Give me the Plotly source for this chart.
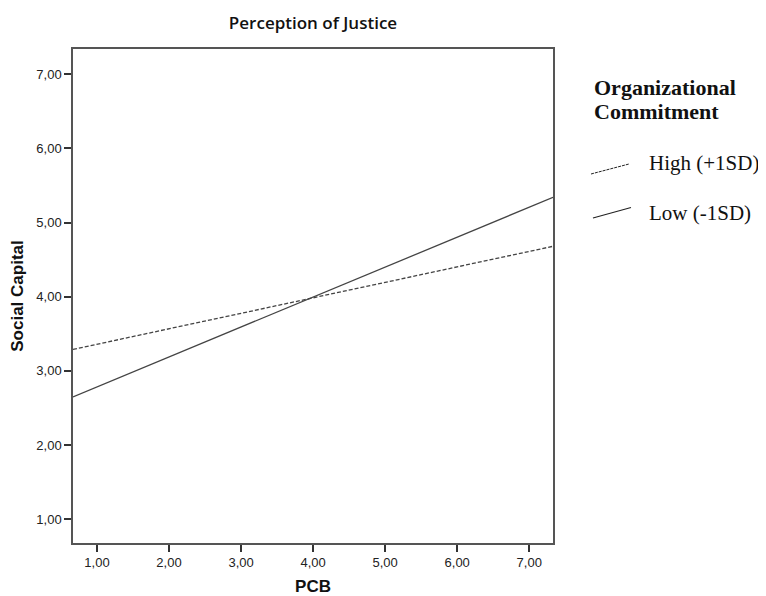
import plotly.graph_objects as go

pcb_range = [0.667, 7.33]
high_values = [3.29, 4.68]
low_values = [2.65, 5.34]
series_names = ["High (+1SD)", "Low (-1SD)"]
legend_title_lines = ["Organizational", "Commitment"]
x_ticks = [1, 2, 3, 4, 5, 6, 7]
y_ticks = [1, 2, 3, 4, 5, 6, 7]

# page has an 8px body margin; figure is shrunk by it so nothing overflows the window
OFF = 8
W, H = 766 - OFF, 596 - OFF

def px(x):
    return (x - 73) / 480

def py(y):
    return (543 - y) / 494

fig = go.Figure()
fig.add_trace(go.Scatter(x=pcb_range, y=high_values, mode="lines", name=series_names[0],
                         line=dict(color="#444444", width=1.3, dash="4px,2px"), showlegend=False))
fig.add_trace(go.Scatter(x=pcb_range, y=low_values, mode="lines", name=series_names[1],
                         line=dict(color="#444444", width=1.3), showlegend=False))

axis_common = dict(showline=True, linecolor="#555555", linewidth=1.5, mirror=True,
                   ticks="outside", ticklen=7, tickwidth=1.5, tickcolor="#333333",
                   showgrid=False, zeroline=False, tickformat=".2f", automargin=False,
                   tickfont=dict(family="Arial, Liberation Sans", size=13, color="#222222"))

fig.update_xaxes(range=[0.667, 7.33], tickvals=x_ticks,
                 title=dict(text="<b>PCB</b>", font=dict(family="Arial, Liberation Sans", size=17, color="#111111"), standoff=12),
                 **axis_common)
fig.update_yaxes(range=[0.68, 7.34], tickvals=y_ticks,
                 title=dict(text="<b>Social Capital</b>", font=dict(family="Arial, Liberation Sans", size=17, color="#111111"), standoff=10),
                 **axis_common)

shapes = [
    dict(type="line", xref="paper", yref="paper", x0=px(591), x1=px(629),
         y0=py(174), y1=py(164), line=dict(color="#222222", width=1, dash="3px,1px")),
    dict(type="line", xref="paper", yref="paper", x0=px(593), x1=px(631),
         y0=py(218), y1=py(207.5), line=dict(color="#222222", width=1.2)),
]
serif = "Liberation Serif, Times New Roman"
annotations = [
    dict(text="<b>" + legend_title_lines[0] + "</b>", xref="paper", yref="paper",
         x=px(592), y=py(87.5), xanchor="left", yanchor="middle", showarrow=False,
         font=dict(family=serif, size=22, color="#111111")),
    dict(text="<b>" + legend_title_lines[1] + "</b>", xref="paper", yref="paper",
         x=px(592), y=py(111.8), xanchor="left", yanchor="middle", showarrow=False,
         font=dict(family=serif, size=22, color="#111111")),
    dict(text=series_names[0], xref="paper", yref="paper", x=px(647), y=py(162.5),
         xanchor="left", yanchor="middle", showarrow=False,
         font=dict(family=serif, size=21, color="#111111")),
    dict(text=series_names[1], xref="paper", yref="paper", x=px(647), y=py(213.5),
         xanchor="left", yanchor="middle", showarrow=False,
         font=dict(family=serif, size=21, color="#111111")),
]

fig.update_layout(
    width=W, height=H,
    margin=dict(l=73-OFF, r=W-(553-OFF), t=49-OFF, b=H-(543-OFF)),
    paper_bgcolor="white", plot_bgcolor="white",
    separators=",.",
    title=dict(text="Perception of Justice", x=(313-OFF)/W, xanchor="center", y=1-(23-OFF)/H, yanchor="middle",
               font=dict(family="Open Sans", size=17, color="#111111", weight=600)),
    shapes=shapes, annotations=annotations,
)

fig.write_html("out.html")
